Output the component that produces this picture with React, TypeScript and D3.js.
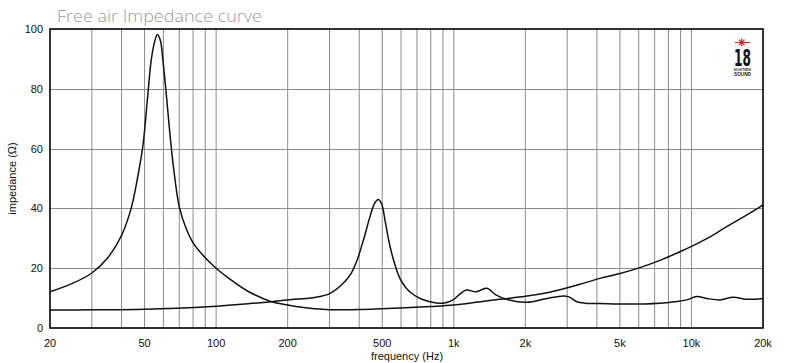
import React from "react";
import * as d3 from "d3";

const freqA = [20, 25, 30, 35, 40, 43.9, 46.9, 49.2, 51.6, 53.3, 55.1, 56.6, 58.2, 59.9, 61.9, 63.9, 66, 70, 75, 80, 90, 100, 115, 136, 171, 200, 225, 260, 300, 400, 594, 800, 1000, 1565, 2000, 2500, 2800, 3400, 4120, 5000, 6070, 7370, 8940, 10000, 11960, 14060, 16500, 19500, 20000];
const impA = [12.1, 15, 18.4, 23.5, 31, 40, 51, 61, 78, 89.5, 95.7, 98.2, 96.3, 88.5, 77, 65, 54.5, 40.5, 33, 28.5, 23.5, 20, 16.2, 12.3, 8.8, 7.7, 7.0, 6.4, 6.1, 6.2, 6.7, 7.2, 7.7, 9.6, 10.6, 11.9, 12.8, 14.6, 16.6, 18.2, 20.2, 22.6, 25.5, 27.3, 30.5, 33.9, 37.1, 40.6, 41.3];

const freqB = [20, 30, 50, 85, 136, 171, 200, 263, 300, 341, 370, 391, 417, 445, 465, 481, 497, 515, 535, 559, 594, 630, 675, 730, 794, 903, 994, 1060, 1128, 1242, 1374, 1510, 1664, 2030, 2475, 2888, 3050, 3291, 3560, 4120, 5337, 7368, 8500, 9544, 10514, 11580, 13172, 14990, 17060, 20000];
const impB = [6.0, 6.1, 6.3, 6.9, 8.1, 8.8, 9.4, 10.3, 11.5, 14.8, 18.3, 22.5, 29.5, 37.5, 41.8, 43, 41.5, 35.5, 28.5, 22.5, 16.5, 13.4, 11.2, 9.7, 8.8, 8.3, 9.4, 11.3, 12.7, 12.1, 13.3, 11, 9.6, 8.6, 9.9, 10.7, 10.4, 8.8, 8.3, 8.2, 8.0, 8.3, 8.8, 9.4, 10.5, 9.9, 9.4, 10.3, 9.6, 9.9];

const xTickValues = [20, 50, 100, 200, 500, 1000, 2000, 5000, 10000, 20000];
const xTickLabels = ["20", "50", "100", "200", "500", "1k", "2k", "5k", "10k", "20k"];
const yTickValues = [0, 20, 40, 60, 80, 100];
const xGridValues = [30, 40, 50, 60, 70, 80, 90, 100, 200, 300, 400, 500, 600, 700, 800, 900, 1000, 2000, 3000, 4000, 5000, 6000, 7000, 8000, 9000, 10000];
const yGridValues = [20, 40, 60, 80];

const title = "Free air Impedance curve";
const xLabel = "frequency (Hz)";
const yLabel = "impedance (\u03A9)";

export default function App() {
  const W = 787, H = 363;
  const left = 50, right = 763, top = 29, bottom = 328;
  const x = d3.scaleLog().domain([20, 20000]).range([left, right]);
  const y = d3.scaleLinear().domain([0, 100]).range([bottom, top]);
  const line = d3.line<[number, number]>()
    .x((d) => x(d[0]))
    .y((d) => y(d[1]))
    .curve(d3.curveCatmullRom.alpha(0.5));
  const pathA = line(freqA.map((f, i) => [f, impA[i]] as [number, number])) || "";
  const pathB = line(freqB.map((f, i) => [f, impB[i]] as [number, number])) || "";
  const font = "Liberation Sans, Arial, sans-serif";

  return (
    <svg width={W} height={H} style={{ position: "absolute", left: 0, top: 0, background: "#fff" }}>
      <rect x={0} y={0} width={W} height={H} fill="#fff" />
      <text x={57} y={22} fill="#9a9a9a" fontFamily="Open Sans, sans-serif" fontWeight={300} fontSize={15.5} textLength={205} lengthAdjust="spacingAndGlyphs">{title}</text>
      {xGridValues.map((v) => (
        <line key={"gx" + v} x1={x(v)} x2={x(v)} y1={top} y2={bottom} stroke="#8c8c8c" strokeWidth={1} />
      ))}
      {yGridValues.map((v) => (
        <line key={"gy" + v} x1={left} x2={right} y1={Math.round(y(v)) + 0.5} y2={Math.round(y(v)) + 0.5} stroke="#8c8c8c" strokeWidth={1} />
      ))}
      <path d={pathA} fill="none" stroke="#111" strokeWidth={1.5} />
      <path d={pathB} fill="none" stroke="#111" strokeWidth={1.5} />
      <rect x={left} y={top} width={right - left} height={bottom - top} fill="none" stroke="#000" strokeWidth={1.6} />
      {yTickValues.map((v) => (
        <text key={"ty" + v} x={43} y={y(v) + 4} textAnchor="end" fontFamily={font} fontSize={11} fill="#111">{v}</text>
      ))}
      {xTickValues.map((v, i) => (
        <text key={"tx" + v} x={x(v)} y={347} textAnchor="middle" fontFamily={font} fontSize={11} fill="#111">{xTickLabels[i]}</text>
      ))}
      <text x={407} y={360} textAnchor="middle" fontFamily={font} fontSize={11} fill="#111">{xLabel}</text>
      <text transform={`translate(16,${(top + bottom) / 2}) rotate(-90)`} textAnchor="middle" fontFamily={font} fontSize={11} fill="#111">{yLabel}</text>
      <g>
        <line x1={735} x2={750} y1={42.5} y2={42.5} stroke="#e8141c" strokeWidth={1} />
        {[0, 45, 90, 135].map((a) => {
          const r = 4;
          const rad = (a * Math.PI) / 180;
          return (
            <line key={"s" + a} x1={741.7 - r * Math.cos(rad)} x2={741.7 + r * Math.cos(rad)} y1={42.5 - r * Math.sin(rad)} y2={42.5 + r * Math.sin(rad)} stroke="#e8141c" strokeWidth={1.2} />
          );
        })}
        <text x={734} y={65.5} fontFamily="DejaVu Sans Condensed, DejaVu Sans, sans-serif" fontWeight="bold" fontSize={23} textLength={17} lengthAdjust="spacingAndGlyphs" fill="#111">18</text>
        <text x={734} y={71} fontFamily={font} fontWeight="bold" fontSize={3.8} textLength={17} lengthAdjust="spacingAndGlyphs" fill="#333">EIGHTEEN</text>
        <text x={734} y={76} fontFamily={font} fontWeight="bold" fontSize={5} textLength={17} lengthAdjust="spacingAndGlyphs" fill="#222">SOUND</text>
      </g>
    </svg>
  );
}
